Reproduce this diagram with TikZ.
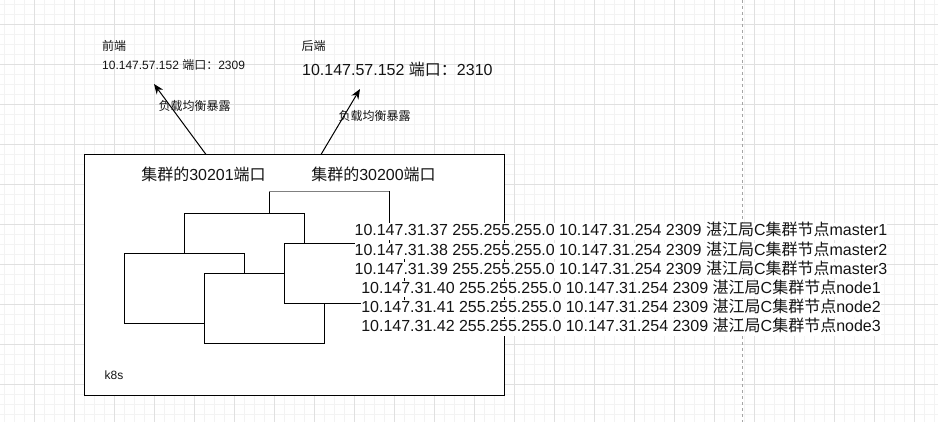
\documentclass[tikz,border=0pt]{standalone}
\usepackage{fontspec}
\setmainfont{Liberation Sans}
\newfontfamily\cjk{Noto Sans CJK SC}
\usetikzlibrary{arrows.meta}
\definecolor{gmajor}{RGB}{224,224,224}
\definecolor{gminor}{RGB}{243,243,243}
\definecolor{pagebrk}{RGB}{165,165,165}
\definecolor{txt}{RGB}{20,20,20}
\tikzset{
  t12/.style={font=\fontsize{12}{14.4}\selectfont, text=txt, inner sep=0pt},
  t16/.style={font=\fontsize{16}{19.2}\selectfont, text=txt, inner sep=0pt},
  minorline/.style={gminor, line width=0.8pt},
  majorline/.style={gmajor, line width=0.8pt},
  boxshape/.style={draw=black, fill=white, line width=1pt},
  arrowline/.style={draw=black, line width=1pt, -{Stealth[length=10pt,width=8pt]}},
  iprow/.style={t16, fill=white, text height=12.5pt, text depth=4pt, anchor=center}
}
\begin{document}
\begin{tikzpicture}[x=1pt,y=-1pt]
\useasboundingbox (0,0) rectangle (938,422);
\fill[white] (0,0) rectangle (938,422);
% grid
\foreach \x in {4,14,...,934} \draw[minorline] (\x,0) -- (\x,422);
\foreach \y in {4,14,...,414} \draw[minorline] (0,\y) -- (938,\y);
\foreach \x in {34,74,...,914} \draw[majorline] (\x,0) -- (\x,422);
\foreach \y in {24,64,...,384} \draw[majorline] (0,\y) -- (938,\y);
% page break line
\draw[pagebrk, line width=0.8pt, dash pattern=on 3pt off 3pt] (742,0) -- (742,422);

% k8s cluster box
\node[boxshape, minimum width=420pt, minimum height=240pt, anchor=north west, inner sep=0pt] (k8s) at (84,154.5) {};
\node[t12, anchor=west] (k8slbl) at (104.5,375.5) {k8s};

% stacked boxes
\draw[boxshape] (269,192) rectangle (389,262);
\draw[gray, line width=1pt] (269,192) -- (389,192);
\draw[boxshape] (184,214) rectangle (304,284);
\draw[boxshape] (124,254) rectangle (244,324);
\draw[boxshape] (204,274) rectangle (324,344);
\draw[boxshape] (284,244) rectangle (404,304);

% port labels
\node[t16] (p1) at (203.5,174.5) {{\cjk 集群的}30201{\cjk 端口}};
\node[t16] (p2) at (373.5,174.5) {{\cjk 集群的}30200{\cjk 端口}};

% front / back
\node[t12, anchor=west] (front) at (102,45.5) {{\cjk 前端}};
\node[t12, anchor=west] (fip) at (102,65) {10.147.57.152 {\cjk 端口：}2309};
\node[t12, anchor=west] (back) at (301.5,45.5) {{\cjk 后端}};
\node[t16, anchor=west] (bip) at (302,69.5) {10.147.57.152 {\cjk 端口：}2310};

% arrows
\coordinate (a1s) at (206,154.5);
\coordinate (a1e) at (154,84);
\coordinate (a2s) at (321,154.5);
\coordinate (a2e) at (360,89);
\draw[arrowline] (a1s) -- (a1e);
\draw[arrowline] (a2s) -- (a2e);
\node[t12] (lb1) at (194.5,105.5) {{\cjk 负载均衡暴露}};
\node[t12] (lb2) at (374.5,115.5) {{\cjk 负载均衡暴露}};

% node list
\node[iprow] (r1) at (621,231.6) {10.147.31.37 255.255.255.0 10.147.31.254 2309 {\cjk 湛江局}C{\cjk 集群节点}master1};
\node[iprow] (r2) at (621,250.8) {10.147.31.38 255.255.255.0 10.147.31.254 2309 {\cjk 湛江局}C{\cjk 集群节点}master2};
\node[iprow] (r3) at (621,270.0) {10.147.31.39 255.255.255.0 10.147.31.254 2309 {\cjk 湛江局}C{\cjk 集群节点}master3};
\node[iprow] (r4) at (621,289.2) {10.147.31.40 255.255.255.0 10.147.31.254 2309 {\cjk 湛江局}C{\cjk 集群节点}node1};
\node[iprow] (r5) at (621,308.4) {10.147.31.41 255.255.255.0 10.147.31.254 2309 {\cjk 湛江局}C{\cjk 集群节点}node2};
\node[iprow] (r6) at (621,327.6) {10.147.31.42 255.255.255.0 10.147.31.254 2309 {\cjk 湛江局}C{\cjk 集群节点}node3};
\end{tikzpicture}
\end{document}
